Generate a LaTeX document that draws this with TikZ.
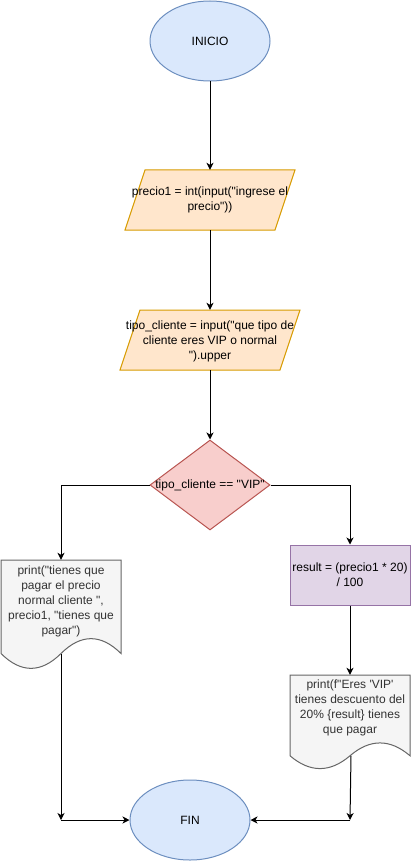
\documentclass[tikz,border=0pt]{standalone}
\usepackage{fontspec}
\setmainfont{Liberation Sans}[Ligatures=TeXOff]
\usetikzlibrary{shapes.geometric,arrows.meta}
\definecolor{bluef}{HTML}{DAE8FC}\definecolor{blued}{HTML}{6C8EBF}
\definecolor{orangef}{HTML}{FFE6CC}\definecolor{oranged}{HTML}{D79B00}
\definecolor{redf}{HTML}{F8CECC}\definecolor{redd}{HTML}{B85450}
\definecolor{purplef}{HTML}{E1D5E7}\definecolor{purpled}{HTML}{9673A6}
\definecolor{grayf}{HTML}{F5F5F5}\definecolor{grayd}{HTML}{666666}
\definecolor{grayt}{HTML}{333333}
\newcommand\docpath[4]{% x0,y0,w,h
  (#1,#2) -- ({#1+#3},#2) -- ({#1+#3},{#2+0.85*#4})
  .. controls ({#1+5*#3/6},{#2+0.67*#4}) and ({#1+2*#3/3},{#2+0.67*#4}) .. ({#1+#3/2},{#2+0.85*#4})
  .. controls ({#1+#3/3},{#2+1.03*#4}) and ({#1+#3/6},{#2+1.03*#4}) .. (#1,{#2+0.85*#4}) -- cycle}
\begin{document}
\begin{tikzpicture}[x=1pt,y=-1pt,
  every node/.style={font=\fontsize{12}{15}\selectfont, align=center, inner sep=0pt},
  lw/.style={line width=1pt},
  term/.style={ellipse, draw=blued, fill=bluef, lw, minimum width=120pt, minimum height=80pt},
  io/.style={draw=oranged, fill=orangef, lw},
  dec/.style={diamond, draw=redd, fill=redf, lw, minimum width=120pt, minimum height=90pt},
  proc/.style={rectangle, draw=purpled, fill=purplef, lw, minimum width=120pt, minimum height=60pt},
  docs/.style={draw=grayd, fill=grayf, lw},
  doctext/.style={text=grayt},
  arr/.style={lw, -{Stealth[length=7pt,width=7pt,inset=2pt]}}]
\useasboundingbox (0,0) rectangle (411,861);
% start
\node[term] (inicio) at (210,41) {INICIO};
% input 1
\path[io] (145,170) -- (295,170) -- (275,230) -- (125,230) -- cycle;
\node[rectangle, minimum width=170pt, minimum height=60pt] (p1) at (210,200) {};
\node (p1t) at (210,200) {precio1 = int(input("ingrese el\\precio"))};
% input 2
\path[io] (140,310) -- (300,310) -- (280,370) -- (120,370) -- cycle;
\node[rectangle, minimum width=180pt, minimum height=60pt] (p2) at (210,340) {};
\node (p2t) at (210,341) {tipo\_cliente = input("que tipo de\\cliente eres VIP o normal\\").upper};
% decision
\node[dec] (d) at (210,485) {};
\node (dt) at (210,485) {tipo\_cliente == "VIP"};
% left document
\path[docs] \docpath{1}{560}{120}{110};
\node[rectangle, minimum width=120pt, minimum height=110pt] (doc1) at (61,615) {};
\coordinate (doc1b) at (61,653.5);
\node[doctext] (doc1t) at (61,601) {print("tienes que\\pagar el precio\\normal cliente ",\\precio1, "tienes que\\pagar")};
% process
\node[proc] (res) at (350,575) {};
\node (rest) at (350,575) {result = (precio1 * 20)\\/ 100};
% right document
\path[docs] \docpath{290}{675}{120}{95};
\node[rectangle, minimum width=120pt, minimum height=95pt] (doc2) at (350,722.5) {};
\coordinate (doc2b) at (351,755.75);
\node[doctext] (doc2t) at (350,708) {print(f"Eres 'VIP'\\tienes descuento del\\20\% \{result\} tienes\\que pagar};
% end
\node[term] (fin) at (190,820) {FIN};
\coordinate (cl) at (61,820);
\coordinate (cr) at (350,820);
% connectors
\draw[arr] (inicio) -- (p1);
\draw[arr] (p1) -- (p2);
\draw[arr] (p2) -- (d);
\draw[arr] (d.west) -| (doc1.north);
\draw[arr] (d.east) -| (res.north);
\draw[arr] (res) -- (doc2);
\draw[arr] (doc1b) -- (cl);
\draw[arr] (cl) -- (fin.west);
\draw[arr] (doc2b) -- (cr);
\draw[arr] (cr) -- (fin.east);
\end{tikzpicture}
\end{document}
